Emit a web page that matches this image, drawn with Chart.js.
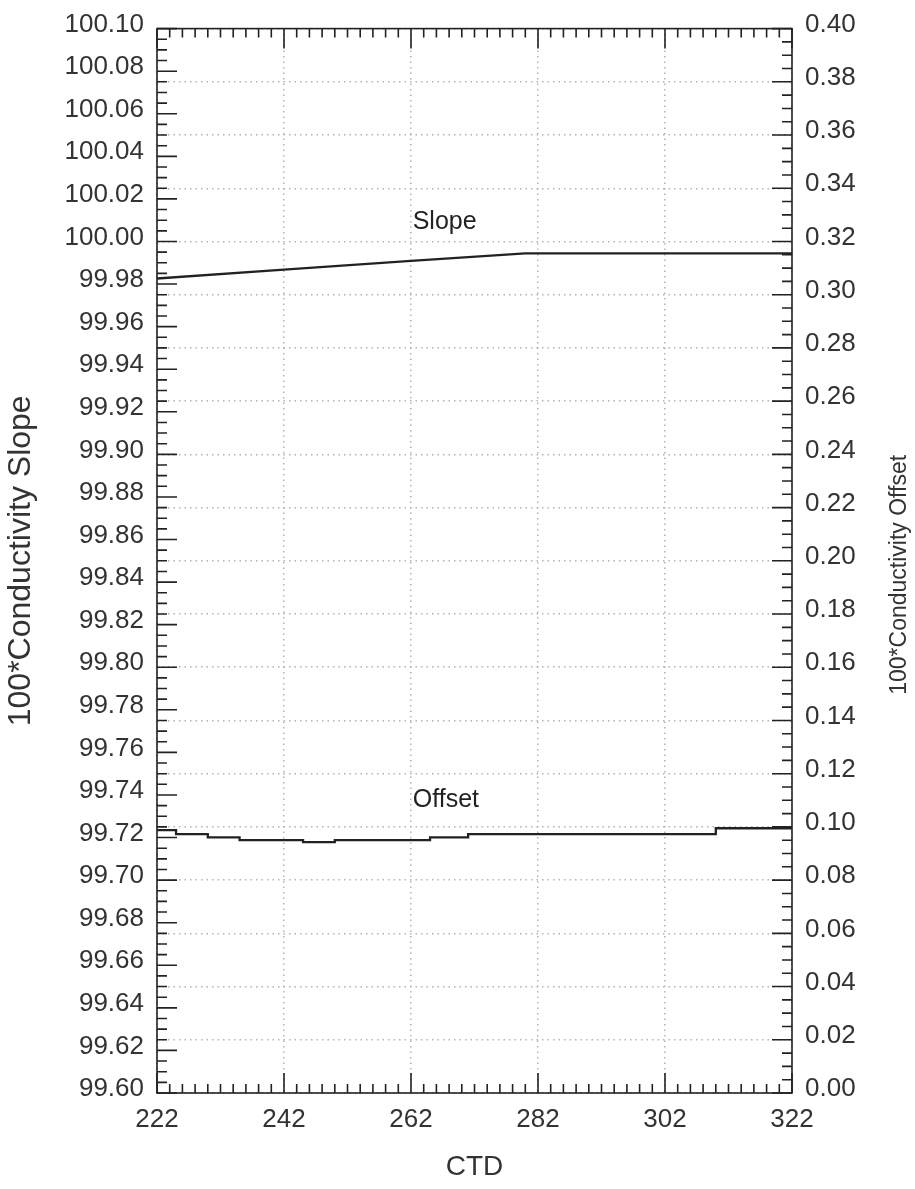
<!DOCTYPE html>
<html>
<head>
<meta charset="utf-8">
<script src="https://cdn.jsdelivr.net/npm/chart.js@4.4.1/dist/chart.umd.min.js"></script>
<style>
  html, body { margin: 0; padding: 0; background: #fff; }
</style>
</head>
<body>
<canvas id="ctdChart" width="915" height="1189"></canvas>
<script>
// conductivity calibration per CTD
const slopeCtd = [222, 242, 262, 280, 322];
const slopeVals = [99.9826, 99.9868, 99.9909, 99.9944, 99.9944];

const offsetCtd = [222, 225, 230, 235, 245, 250, 265, 271, 310, 322];
const offsetVals = [0.0988, 0.0973, 0.0961, 0.0950, 0.0943, 0.0950, 0.0961, 0.0973, 0.0995, 0.0995];

const xRange = [222, 322];
const slopeRange = [99.60, 100.10];
const offsetRange = [0.00, 0.40];

// labels written next to the curves: text, CTD, value on the offset axis
const curveLabels = [
    ['Slope', 267.3, 0.3272],
    ['Offset', 267.5, 0.1100]
];

const FONT = '"Liberation Sans", Arial, sans-serif';
const INK = '#222';
const TEXT = '#333';

// frame, inward tick marks, curve labels and the right-hand title
const framePlugin = {
    id: 'frame',
    afterDatasetsDraw(chart) {
        const { ctx, chartArea: a, scales } = chart;
        ctx.save();
        ctx.strokeStyle = INK;
        ctx.lineWidth = 1.6;
        ctx.strokeRect(a.left, a.top, a.right - a.left, a.bottom - a.top);
        ctx.beginPath();
        for (let i = 0; i <= 50; i++) {
            const px = scales.x.getPixelForValue(xRange[0] + i * 2);
            const len = i % 10 === 0 ? 20 : 9;
            ctx.moveTo(px, a.bottom); ctx.lineTo(px, a.bottom - len);
            ctx.moveTo(px, a.top); ctx.lineTo(px, a.top + len);
        }
        for (let i = 0; i <= 100; i++) {
            const py = scales.y.getPixelForValue(slopeRange[0] + i * 0.005);
            const len = i % 4 === 0 ? 20 : 10;
            ctx.moveTo(a.left, py); ctx.lineTo(a.left + len, py);
        }
        for (let i = 0; i <= 80; i++) {
            const py = scales.y2.getPixelForValue(offsetRange[0] + i * 0.005);
            const len = i % 4 === 0 ? 20 : 10;
            ctx.moveTo(a.right, py); ctx.lineTo(a.right - len, py);
        }
        ctx.stroke();

        ctx.fillStyle = INK;
        ctx.font = '25px ' + FONT;
        ctx.textAlign = 'center';
        ctx.textBaseline = 'middle';
        curveLabels.forEach(([t, cx, cy]) => {
            ctx.fillText(t, scales.x.getPixelForValue(cx), scales.y2.getPixelForValue(cy));
        });

        // right title reads bottom-to-top, same as the left one
        ctx.fillStyle = TEXT;
        ctx.translate(900, (a.top + a.bottom) / 2 + 14);
        ctx.rotate(-Math.PI / 2);
        ctx.font = '23px ' + FONT;
        ctx.fillText('100*Conductivity Offset', 0, 0);
        ctx.restore();
    }
};

const tickFont = { size: 26, family: FONT };

new Chart(document.getElementById('ctdChart').getContext('2d'), {
    type: 'line',
    data: {
        datasets: [{
            label: 'Slope',
            data: slopeCtd.map((c, i) => ({ x: c, y: slopeVals[i] })),
            yAxisID: 'y',
            borderColor: INK,
            borderWidth: 2.3,
            pointRadius: 0,
            tension: 0
        }, {
            label: 'Offset',
            data: offsetCtd.map((c, i) => ({ x: c, y: offsetVals[i] })),
            yAxisID: 'y2',
            stepped: true,
            borderColor: INK,
            borderWidth: 2.3,
            pointRadius: 0
        }]
    },
    options: {
        responsive: false,
        animation: false,
        layout: { padding: { top: 28, left: 0, right: 0, bottom: 0 } },
        plugins: { legend: { display: false }, tooltip: { enabled: false } },
        scales: {
            x: {
                type: 'linear',
                min: xRange[0], max: xRange[1],
                afterFit: s => { s.height = 96; },
                ticks: { stepSize: 20, padding: 11, color: TEXT, font: tickFont, maxRotation: 0, autoSkip: false },
                grid: { color: '#b4b4b4', lineWidth: 1.5, drawTicks: false },
                border: { display: false, dash: [1.5, 4] },
                title: { display: true, text: 'CTD', color: TEXT, font: { size: 28, family: FONT }, padding: { top: 0, bottom: 5 } }
            },
            y: {
                position: 'left',
                min: slopeRange[0], max: slopeRange[1],
                afterFit: s => { s.width = 157; },
                ticks: {
                    stepSize: 0.02, padding: 13, labelOffset: -4, color: TEXT, font: tickFont, autoSkip: false,
                    callback: v => v.toFixed(2)
                },
                grid: { display: false, drawTicks: false },
                border: { display: false },
                title: { display: true, text: '100*Conductivity Slope', color: TEXT, font: { size: 32, family: FONT }, padding: { top: 2, bottom: 0 } }
            },
            y2: {
                position: 'right',
                min: offsetRange[0], max: offsetRange[1],
                afterFit: s => { s.width = 123; },
                ticks: {
                    stepSize: 0.02, padding: 13, labelOffset: -4, color: TEXT, font: tickFont, autoSkip: false,
                    callback: v => v.toFixed(2)
                },
                grid: { color: '#b4b4b4', lineWidth: 1.5, drawTicks: false },
                border: { display: false, dash: [1.5, 4] }
            }
        }
    },
    plugins: [framePlugin]
});
</script>
</body>
</html>
